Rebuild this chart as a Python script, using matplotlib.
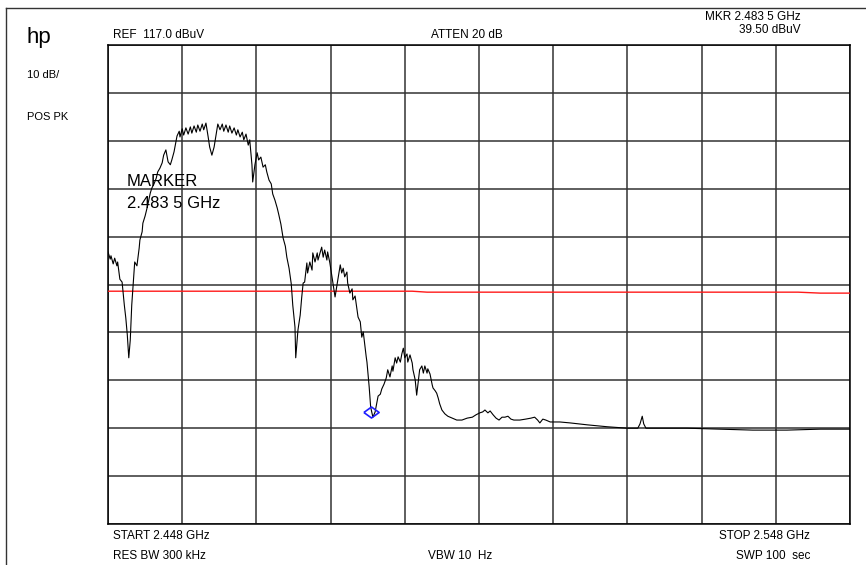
import matplotlib
matplotlib.use("Agg")
import matplotlib.pyplot as plt
from matplotlib.lines import Line2D

plt.rcParams['font.family'] = ['Liberation Sans', 'DejaVu Sans']

# trace (MHz, dBuV)
freq = [2448.0, 2448.3, 2448.4, 2448.7, 2448.9, 2449.2, 2449.3, 2449.6, 2449.9, 2450.2,
        2450.4, 2450.6, 2450.8, 2451.0, 2451.2, 2451.5, 2451.6, 2451.9, 2452.2, 2452.3,
        2452.6, 2452.7, 2453.0, 2453.3, 2453.5, 2453.7, 2453.9, 2454.2, 2454.5, 2454.7,
        2455.0, 2455.3, 2455.5, 2455.8, 2456.1, 2456.4, 2456.6, 2456.9, 2457.2, 2457.3,
        2457.6, 2457.7, 2458.0, 2458.2, 2458.5, 2458.8, 2459.1, 2459.3, 2459.6, 2459.9,
        2460.1, 2460.4, 2460.7, 2460.9, 2461.2, 2461.5, 2461.7, 2462.0, 2462.3, 2462.6,
        2462.8, 2463.1, 2463.4, 2463.6, 2463.9, 2464.2, 2464.4, 2464.7, 2465.0, 2465.3,
        2465.5, 2465.8, 2466.1, 2466.3, 2466.6, 2466.9, 2467.1, 2467.4, 2467.5, 2467.8,
        2468.1, 2468.3, 2468.6, 2468.9, 2469.2, 2469.4, 2469.7, 2470.0, 2470.2, 2470.5,
        2470.8, 2471.0, 2471.3, 2471.6, 2471.9, 2472.1, 2472.4, 2472.7, 2472.9, 2473.2,
        2473.3, 2473.6, 2473.9, 2474.1, 2474.3, 2474.5, 2474.8, 2474.9, 2475.2, 2475.5,
        2475.6, 2475.9, 2476.2, 2476.3, 2476.8, 2477.0, 2477.2, 2477.5, 2477.6, 2477.9,
        2478.2, 2478.6, 2478.9, 2479.3, 2479.5, 2479.7, 2479.9, 2480.2, 2480.3, 2480.6,
        2480.9, 2481.0, 2481.3, 2481.7, 2482.0, 2482.2, 2482.4, 2482.8, 2482.9, 2483.2,
        2483.4, 2483.7, 2484.0, 2484.2, 2484.4, 2484.7, 2484.9, 2485.2, 2485.5, 2485.7,
        2486.0, 2486.3, 2486.4, 2486.7, 2486.9, 2487.1, 2487.4, 2487.6, 2487.8, 2488.0,
        2488.3, 2488.4, 2488.7, 2489.0, 2489.1, 2489.4, 2489.6, 2489.8, 2490.0, 2490.3,
        2490.5, 2490.7, 2491.0, 2491.1, 2491.4, 2491.7, 2491.8, 2492.1, 2492.3, 2492.5,
        2492.7, 2493.0, 2493.4, 2493.8, 2494.4, 2495.0, 2495.7, 2496.4, 2497.1, 2497.6,
        2498.1, 2498.5, 2498.8, 2499.2, 2499.5, 2499.9, 2500.3, 2500.7, 2501.1, 2501.5,
        2501.9, 2502.3, 2502.7, 2503.5, 2504.3, 2505.0, 2505.5, 2505.9, 2506.2, 2506.6,
        2507.0, 2507.6, 2508.9, 2510.3, 2512.6, 2515.3, 2518.0, 2519.4, 2519.7, 2520.0,
        2520.2, 2520.5, 2522.4, 2526.0, 2530.5, 2534.9, 2539.5, 2544.0, 2548.0]
level = [73.8, 72.3, 73.0, 71.3, 72.5, 70.9, 71.7, 68.1, 67.5, 62.7,
         60.0, 56.5, 51.7, 55.4, 62.7, 69.6, 71.7, 70.9, 74.6, 76.3,
         78.0, 79.8, 81.3, 83.2, 84.6, 86.1, 87.1, 88.0, 89.2, 90.5,
         91.3, 92.4, 94.0, 95.1, 92.6, 92.0, 93.0, 94.7, 97.2, 98.0,
         99.0, 97.8, 99.5, 98.2, 99.7, 98.4, 99.9, 98.6, 100.1, 98.8,
         100.3, 99.0, 100.5, 99.3, 100.7, 97.8, 95.7, 94.0, 95.7, 98.6,
         100.5, 99.3, 100.5, 99.0, 100.3, 98.8, 100.1, 98.6, 99.7, 98.2,
         99.3, 97.8, 98.8, 97.2, 98.4, 96.1, 97.2, 92.0, 88.4, 92.0,
         94.5, 93.0, 93.6, 91.5, 92.0, 90.5, 88.8, 88.0, 85.9, 84.6,
         83.0, 81.7, 79.6, 76.7, 75.0, 72.7, 70.4, 67.1, 62.7, 58.1,
         51.7, 57.5, 60.6, 64.2, 67.3, 67.5, 71.5, 69.4, 71.7, 70.0,
         73.6, 71.7, 73.6, 72.1, 74.8, 72.7, 74.2, 72.1, 73.8, 71.5,
         68.4, 64.4, 67.3, 71.1, 69.4, 70.4, 68.6, 69.6, 67.3, 65.2,
         66.1, 63.8, 64.6, 60.2, 59.2, 56.0, 57.1, 51.9, 50.8, 45.6,
         41.4, 39.3, 40.4, 42.1, 43.7, 44.1, 45.2, 46.2, 47.5, 49.2,
         47.7, 50.0, 48.9, 51.7, 50.6, 51.9, 50.8, 52.5, 53.7, 51.7,
         52.5, 50.8, 52.3, 50.6, 49.2, 47.1, 43.9, 46.6, 49.2, 50.0,
         48.5, 50.0, 48.5, 49.4, 48.3, 46.0, 45.4, 44.8, 44.3, 43.3,
         42.1, 40.8, 40.0, 39.5, 39.1, 38.7, 38.7, 39.1, 39.3, 39.8,
         40.2, 40.4, 40.8, 40.2, 40.6, 39.8, 39.1, 38.7, 39.3, 39.3,
         39.5, 38.9, 38.7, 38.7, 38.9, 39.1, 39.3, 38.7, 38.1, 38.9,
         38.7, 38.3, 38.3, 38.1, 37.7, 37.3, 37.0, 37.0, 37.9, 39.5,
         37.9, 37.0, 37.0, 37.0, 36.8, 36.6, 36.6, 36.8, 36.8]

# limit line
limit_freq = [2448.0, 2489.0, 2491.0, 2541.0, 2544.0, 2548.0]
limit_level = [65.6, 65.6, 65.4, 65.4, 65.2, 65.2]

mkr_freq = 2483.5
mkr_level = 40.4

fig = plt.figure(figsize=(8.66, 5.65), dpi=100)
ax = fig.add_axes([108/866, 1-524/565, 742/866, 479/565])

ax.set_xlim(2448, 2548)
ax.set_ylim(17, 117)
ax.set_xticks(range(2448, 2549, 10))
ax.set_yticks(range(17, 118, 10))
ax.tick_params(length=0, labelbottom=False, labelleft=False)
ax.grid(True, color='#333333', lw=1.1)
for s in ax.spines.values():
    s.set_color('black')
    s.set_linewidth(1.1)

ax.plot(limit_freq, limit_level, color='#ff1a1a', lw=1.0, zorder=3)
ax.plot(freq, level, color='black', lw=0.8, zorder=4)
ax.plot([mkr_freq], [mkr_level], marker=[(-1, 0), (0, 0.72), (1, 0), (0, -0.72), (-1, 0)],
        ms=11, mfc='none', mec='#1f1fff', mew=1.2, zorder=5)

ax.text(127/742*100 + 2448 - 108/742*100, 117 - (186-45)/4.79, 'MARKER', fontsize=12, va='baseline')
ax.text(127/742*100 + 2448 - 108/742*100, 117 - (208-45)/4.79, '2.483 5 GHz', fontsize=12, va='baseline')

def ftext(x, y, s, **kw):
    fig.text(x/866, 1-y/565, s, va='baseline', **kw)

ftext(27, 42.5, 'hp', fontsize=16)
ftext(27, 77.5, '10 dB/', fontsize=8)
ftext(27, 120, 'POS PK', fontsize=8)
ftext(113, 37.5, 'REF  117.0 dBuV', fontsize=8.5)
ftext(467, 37.5, 'ATTEN 20 dB', fontsize=8.5, ha='center')
ftext(801, 20, 'MKR 2.483 5 GHz', fontsize=8.5, ha='right')
ftext(801, 33, '39.50 dBuV', fontsize=8.5, ha='right')
ftext(113, 539, 'START 2.448 GHz', fontsize=8.5)
ftext(810, 539, 'STOP 2.548 GHz', fontsize=8.5, ha='right')
ftext(113, 559, 'RES BW 300 kHz', fontsize=8.5)
ftext(428, 559, 'VBW 10  Hz', fontsize=8.5)
ftext(810, 559, 'SWP 100  sec', fontsize=8.5, ha='right')

# outer frame (top and left edges)
fig.add_artist(Line2D([6/866, 1], [1-8/565, 1-8/565], color='#333333', lw=1.0))
fig.add_artist(Line2D([6/866, 6/866], [0, 1-8/565], color='#333333', lw=1.0))

fig.savefig('out.png', dpi=100)
